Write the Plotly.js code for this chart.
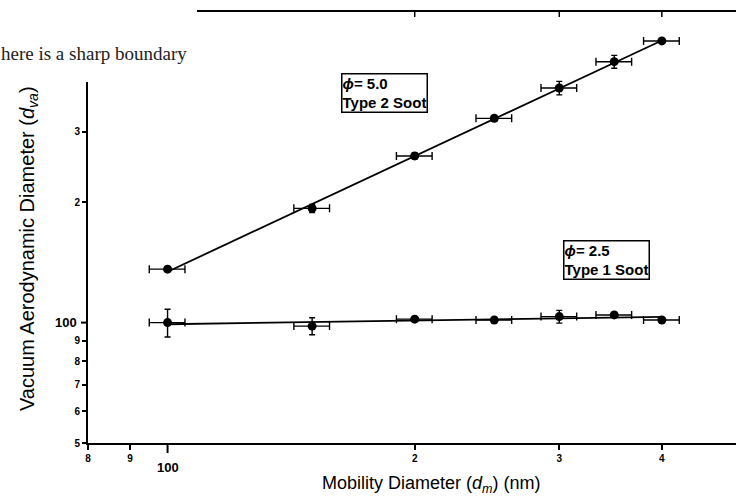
<!DOCTYPE html>
<html>
<head>
<meta charset="utf-8">
<script src="https://cdn.plot.ly/plotly-3.0.1.min.js"></script>
<style>
html,body{margin:0;padding:0;background:#fff;overflow:hidden;}
#chart{width:736px;height:499px;}
</style>
</head>
<body>
<div id="chart"></div>
<script>
// ---- data ----
const mobilityDiameter = [100, 150, 200, 250, 300, 350, 400];
const mobilityErr      = [5, 7.5, 10, 12.5, 15, 17.5, 20];

const type2Dva    = [136, 193, 261, 324, 386, 449, 506];   // phi = 5.0, Type 2 soot
const type2DvaErr = [0, 4.5, 4.5, 5.5, 15, 16.5, 0];

const type1Dva    = [100, 98, 102, 101.5, 103.5, 104.5, 101.5]; // phi = 2.5, Type 1 soot
const type1DvaErr = [8, 4.8, 1.2, 0, 3.8, 1, 1];

const xTickVals = [80, 90, 200, 300, 400];
const xTickText = ['8', '9', '2', '3', '4'];
const yTickVals = [50, 60, 70, 80, 90, 200, 300];
const yTickText = ['5', '6', '7', '8', '9', '2', '3'];
const prevAxisTicks = [200, 300, 400];

// ---- geometry helpers ----
const L = 88, T = 0, PW = 648, PH = 443;
const px = v => (v - L) / PW;          // pixel x -> paper
const py = v => (T + PH - v) / PH;     // pixel y -> paper
const lg = Math.log10;

// power-law fit (least squares in log-log) drawn from first to last point
function fitLine(xs, ys) {
  const lx = xs.map(lg), ly = ys.map(lg), n = xs.length;
  const mx = lx.reduce((a, b) => a + b) / n, my = ly.reduce((a, b) => a + b) / n;
  let sxy = 0, sxx = 0;
  for (let i = 0; i < n; i++) { sxy += (lx[i] - mx) * (ly[i] - my); sxx += (lx[i] - mx) ** 2; }
  const b = sxy / sxx, a = my - b * mx;
  const x0 = xs[0], x1 = xs[n - 1];
  return { x: [x0, x1], y: [10 ** (a + b * lg(x0)), 10 ** (a + b * lg(x1))] };
}
const f2 = fitLine(mobilityDiameter, type2Dva);
const f1 = fitLine(mobilityDiameter, type1Dva);

const lineStyle = { color: '#000', width: 1.8 };
const markerStyle = { color: '#000', size: 9, symbol: 'circle' };
function errX() { return { type: 'data', array: mobilityErr, visible: true, color: '#000', thickness: 1.4, width: 4 }; }
function errY(a) { return { type: 'data', array: a, visible: true, color: '#000', thickness: 1.4, width: 3 }; }

const traces = [
  { x: f2.x, y: f2.y, mode: 'lines', line: lineStyle, showlegend: false, hoverinfo: 'skip' },
  { x: f1.x, y: f1.y, mode: 'lines', line: lineStyle, showlegend: false, hoverinfo: 'skip' },
  { x: mobilityDiameter, y: type2Dva, mode: 'markers', marker: markerStyle,
    error_x: errX(), error_y: errY(type2DvaErr), showlegend: false, name: 'Type 2 Soot' },
  { x: mobilityDiameter, y: type1Dva, mode: 'markers', marker: markerStyle,
    error_x: errX(), error_y: errY(type1DvaErr), showlegend: false, name: 'Type 1 Soot' }
];

const FONT = 'Liberation Sans, Arial, Helvetica, sans-serif';
const tickFont = { family: FONT, size: 10, color: '#000', weight: 'bold' };

const shapes = [
  // white page area covering the top-left corner of the figure
  { type: 'rect', xref: 'paper', yref: 'paper', x0: px(-5), x1: px(197), y0: py(82), y1: py(-5),
    fillcolor: '#fff', line: { width: 0 }, layer: 'above' },
  // axis of the figure above (cropped)
  { type: 'line', xref: 'paper', yref: 'paper', x0: px(197), x1: px(740), y0: py(11), y1: py(11),
    line: { color: '#000', width: 2 } },
  // long tick at 100 on both axes
  { type: 'line', xref: 'x', yref: 'paper', x0: 100, x1: 100, y0: py(443), y1: py(453),
    line: { color: '#000', width: 2 } },
  { type: 'line', xref: 'paper', yref: 'y', x0: px(81), x1: px(88), y0: 100, y1: 100,
    line: { color: '#000', width: 2 } }
];
prevAxisTicks.forEach(v => shapes.push({ type: 'line', xref: 'x', yref: 'paper', x0: v, x1: v,
  y0: py(11), y1: py(17), line: { color: '#000', width: 1.5 } }));

const annotations = [
  { text: 'here is a sharp boundary', xref: 'paper', yref: 'paper', x: px(-1), y: py(54),
    xanchor: 'left', yanchor: 'middle', showarrow: false,
    font: { family: 'Liberation Serif, Times New Roman, serif', size: 19, color: '#222' } },
  { text: '100', xref: 'x', yref: 'paper', x: lg(100), y: py(467), xanchor: 'center', yanchor: 'middle',
    showarrow: false, font: { family: FONT, size: 13, color: '#000', weight: 'bold' } },
  { text: '100', xref: 'paper', yref: 'y', x: px(79), y: lg(100), xanchor: 'right', yanchor: 'middle',
    showarrow: false, font: { family: FONT, size: 13, color: '#000', weight: 'bold' } },
  { text: 'Mobility Diameter (<i>d<sub>m</sub></i>) (nm)', xref: 'paper', yref: 'paper',
    x: px(431), y: py(484), xanchor: 'center', yanchor: 'middle', showarrow: false,
    font: { family: FONT, size: 18, color: '#000' } },
  { text: 'Vacuum Aerodynamic Diameter (<i>d</i><sub><i>va</i></sub>)', xref: 'paper', yref: 'paper',
    x: px(28), y: py(249), xanchor: 'center', yanchor: 'middle', textangle: -90, showarrow: false,
    font: { family: FONT, size: 20, color: '#000' } },
  { text: '<i>ϕ</i>= 5.0<br>Type 2 Soot', xref: 'paper', yref: 'paper', x: px(384.5), y: py(93),
    xanchor: 'center', yanchor: 'middle', align: 'left', showarrow: false,
    bordercolor: '#000', borderwidth: 1.5, borderpad: 0, bgcolor: '#fff',
    font: { family: FONT, size: 15, color: '#000', weight: 'bold' } },
  { text: '<i>ϕ</i>= 2.5<br>Type 1 Soot', xref: 'paper', yref: 'paper', x: px(606), y: py(260),
    xanchor: 'center', yanchor: 'middle', align: 'left', showarrow: false,
    bordercolor: '#000', borderwidth: 1.5, borderpad: 0, bgcolor: '#fff',
    font: { family: FONT, size: 15, color: '#000', weight: 'bold' } }
];

const layout = {
  width: 736, height: 499,
  margin: { l: L, r: 0, t: T, b: 499 - T - PH, pad: 0 },
  paper_bgcolor: '#fff', plot_bgcolor: '#fff',
  showlegend: false,
  xaxis: {
    type: 'log', range: [lg(80), lg(80) + PW / 821],
    showline: true, linecolor: '#000', linewidth: 2, mirror: false,
    ticks: 'outside', ticklen: 5, tickwidth: 2, tickcolor: '#000',
    tickmode: 'array', tickvals: xTickVals, ticktext: xTickText, tickfont: tickFont,
    showgrid: false, zeroline: false
  },
  yaxis: {
    type: 'log', range: [lg(50), lg(50) + PH / 400],
    showline: true, linecolor: '#000', linewidth: 2, mirror: false,
    ticks: 'outside', ticklen: 4, tickwidth: 2, tickcolor: '#000',
    tickmode: 'array', tickvals: yTickVals, ticktext: yTickText, tickfont: tickFont,
    showgrid: false, zeroline: false
  },
  shapes: shapes,
  annotations: annotations
};

Plotly.newPlot('chart', traces, layout, { displayModeBar: false, staticPlot: true });
</script>
</body>
</html>
